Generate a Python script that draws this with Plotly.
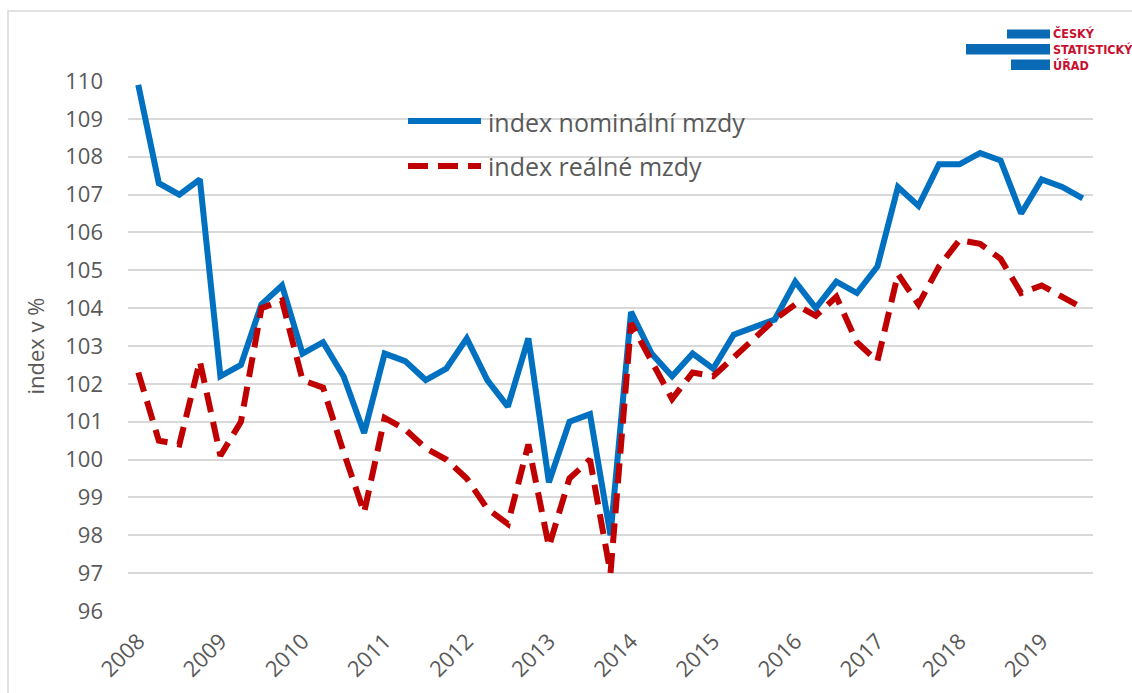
import plotly.graph_objects as go

# ---------------- data ----------------
quarters = [f"{y} Q{q}" for y in range(2008, 2020) for q in range(1, 5)][:47]
year_ticks = ["2008 Q1", "2009 Q1", "2010 Q1", "2011 Q1", "2012 Q1", "2013 Q1",
              "2014 Q1", "2015 Q1", "2016 Q1", "2017 Q1", "2018 Q1", "2019 Q1"]
year_labels = ["2008", "2009", "2010", "2011", "2012", "2013",
               "2014", "2015", "2016", "2017", "2018", "2019"]

nominal = [109.9, 107.3, 107.0, 107.4, 102.2, 102.5, 104.1, 104.6,
           102.8, 103.1, 102.2, 100.7, 102.8, 102.6, 102.1, 102.4,
           103.2, 102.1, 101.4, 103.2, 99.4, 101.0, 101.2, 98.0,
           103.9, 102.8, 102.2, 102.8, 102.4, 103.3, 103.5, 103.7,
           104.7, 104.0, 104.7, 104.4, 105.1, 107.2, 106.7, 107.8,
           107.8, 108.1, 107.9, 106.5, 107.4, 107.2, 106.9]
real = [102.3, 100.5, 100.4, 102.6, 100.1, 101.0, 104.0, 104.2,
        102.1, 101.9, 100.2, 98.6, 101.1, 100.8, 100.3, 100.0,
        99.5, 98.7, 98.3, 100.4, 97.7, 99.5, 100.0, 97.0,
        103.6, 102.6, 101.6, 102.3, 102.2, 102.7, 103.2, 103.7,
        104.1, 103.8, 104.3, 103.1, 102.6, 104.9, 104.1, 105.1,
        105.8, 105.7, 105.3, 104.4, 104.6, 104.3, 104.0]

name_nom = "index nominální mzdy"
name_real = "index reálné mzdy"
y_title = "index v %"
logo_lines = ["ČESKÝ", "STATISTICKÝ", "ÚŘAD"]

# ---------------- style ----------------
BLUE = "#0070C0"
RED = "#C00000"
GRAY = "#595959"
GRID = "#D9D9D9"
FONT = "Open Sans"

W, H = 1132, 693
L, R, T, B = 128, 39, 81, 82
PW, PH = W - L - R, H - T - B


def px(x):
    return (x - L) / PW


def py(y):
    return (H - B - y) / PH


fig = go.Figure()
fig.add_trace(go.Scatter(x=quarters, y=nominal, mode="lines", name=name_nom,
                         line=dict(color=BLUE, width=6), showlegend=False))
fig.add_trace(go.Scatter(x=quarters, y=real, mode="lines", name=name_real,
                         line=dict(color=RED, width=6, dash="20px,10px"),
                         showlegend=False))

shapes = []
# outer chart border
shapes.append(dict(type="rect", xref="paper", yref="paper",
                   x0=px(8), x1=px(1150), y0=py(710), y1=py(11),
                   line=dict(color=GRID, width=1.5), fillcolor="rgba(0,0,0,0)",
                   layer="below"))
# legend background (hides gridlines)
shapes.append(dict(type="rect", xref="paper", yref="paper",
                   x0=px(319), x1=px(827), y0=py(185), y1=py(97),
                   line=dict(width=0), fillcolor="white", layer="between"))
# legend samples
shapes.append(dict(type="line", xref="paper", yref="paper",
                   x0=px(408), x1=px(481), y0=py(121), y1=py(121),
                   line=dict(color=BLUE, width=6)))
shapes.append(dict(type="line", xref="paper", yref="paper",
                   x0=px(408), x1=px(481), y0=py(166), y1=py(166),
                   line=dict(color=RED, width=6, dash="20px,10px")))
# logo bars
for (x0, x1, y0, y1) in [(1007, 1050, 29.5, 38.5), (966, 1050, 44, 54.5),
                         (1011, 1050, 59.5, 70)]:
    shapes.append(dict(type="rect", xref="paper", yref="paper",
                       x0=px(x0), x1=px(x1), y0=py(y1), y1=py(y0),
                       line=dict(width=0), fillcolor="#0A6AB5"))

annotations = []
annotations.append(dict(xref="paper", yref="paper", x=px(486), y=py(122),
                        xanchor="left", yanchor="middle", showarrow=False,
                        text=name_nom, font=dict(family=FONT, size=25, color=GRAY)))
annotations.append(dict(xref="paper", yref="paper", x=px(486), y=py(166),
                        xanchor="left", yanchor="middle", showarrow=False,
                        text=name_real, font=dict(family=FONT, size=25, color=GRAY)))
for txt, yc in zip(logo_lines, [34, 49.5, 65]):
    annotations.append(dict(xref="paper", yref="paper", x=px(1051), y=py(yc),
                            xanchor="left", yanchor="middle", showarrow=False,
                            text=f"<b>{txt}</b>",
                            font=dict(family="Liberation Sans Narrow, DejaVu Sans Condensed, Arial Narrow",
                                      size=12.5, color="#C8102E")))

fig.update_layout(
    width=W, height=H,
    margin=dict(l=L, r=R, t=T, b=B, autoexpand=False),
    paper_bgcolor="white", plot_bgcolor="white",
    font=dict(family=FONT, color=GRAY, size=22),
    shapes=shapes, annotations=annotations,
    showlegend=False,
)
fig.update_xaxes(type="category", tickmode="array", tickvals=year_ticks,
                 ticktext=year_labels, tickangle=-45, showgrid=False,
                 range=[-0.5, len(quarters) - 0.5],
                 zeroline=False, showline=False, ticks="",
                 tickfont=dict(size=22, color=GRAY), ticklabelstandoff=12,
                 automargin=False)
fig.update_yaxes(range=[96, 110], dtick=1, tick0=96, showgrid=True,
                 gridcolor=GRID, gridwidth=1.5, zeroline=False, showline=False,
                 ticks="", tickfont=dict(size=22, color=GRAY),
                 ticklabelstandoff=24, automargin=False,
                 title=dict(text=y_title, font=dict(size=22, color=GRAY), standoff=14))

fig.write_html("out.html", config={"displayModeBar": False},
               post_script="document.body.style.margin='0';document.body.style.overflow='hidden';")
